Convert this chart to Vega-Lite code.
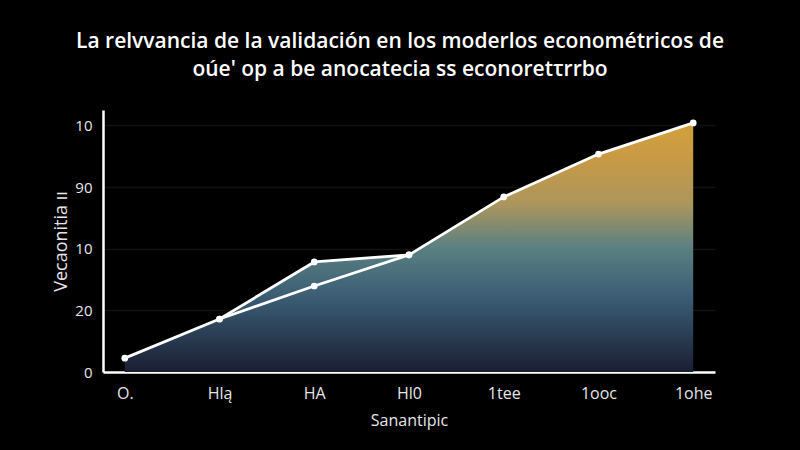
{
  "$schema": "https://vega.github.io/schema/vega-lite/v6.json",
  "width": 612,
  "height": 262,
  "autosize": {"type": "none"},
  "padding": {"left": 103, "top": 110, "right": 85, "bottom": 78},
  "background": "#000000",
  "config": {
    "view": {"stroke": null},
    "font": "Open Sans"
  },
  "title": {
    "text": ["La relvvancia de la validación en los moderlos econométricos de", "oúe' op a be anocatecia ss econoretτrrbo"],
    "color": "#ffffff",
    "fontSize": 21,
    "fontWeight": 600,
    "font": "Open Sans",
    "anchor": "middle",
    "dx": -9,
    "offset": 30,
    "lineHeight": 28
  },
  "data": {
    "values": [
      {"cat": "O.", "value": 4.5, "series": "a"},
      {"cat": "Hlą", "value": 17.2, "series": "a"},
      {"cat": "HA", "value": 35.7, "series": "a"},
      {"cat": "Hl0", "value": 38.0, "series": "a"},
      {"cat": "1tee", "value": 56.8, "series": "a"},
      {"cat": "1ooc", "value": 70.7, "series": "a"},
      {"cat": "1ohe", "value": 80.8, "series": "a"},
      {"cat": "Hlą", "value": 17.2, "series": "b"},
      {"cat": "HA", "value": 27.9, "series": "b"},
      {"cat": "Hl0", "value": 38.0, "series": "b"}
    ]
  },
  "encoding": {
    "x": {
      "field": "cat",
      "type": "ordinal",
      "sort": null,
      "scale": {"type": "point", "padding": 0.23},
      "axis": {
        "title": "Sanantipic",
        "titleColor": "#e6e6e6",
        "titleFontSize": 16,
        "titleFontWeight": "normal",
        "titlePadding": 11,
        "labelColor": "#e6e6e6",
        "labelFontSize": 16,
        "labelAngle": 0,
        "labelPadding": 13,
        "ticks": false,
        "domainColor": "#ffffff",
        "domainWidth": 2.5,
        "grid": false
      }
    },
    "y": {
      "field": "value",
      "type": "quantitative",
      "scale": {"domain": [0, 85], "nice": false},
      "axis": {
        "title": "Vecaonitia  ıı",
        "titleColor": "#e6e6e6",
        "titleFontSize": 18,
        "titleFontWeight": "normal",
        "titlePadding": 4,
        "values": [0, 20, 40, 60, 80],
        "labelExpr": "datum.value == 40 ? '10' : datum.value == 60 ? '90' : datum.value == 80 ? '10' : datum.label",
        "labelColor": "#e6e6e6",
        "labelFontSize": 15,
        "labelPadding": 11,
        "ticks": false,
        "domainColor": "#ffffff",
        "domainWidth": 2.5,
        "grid": true,
        "gridColor": "#121212",
        "gridWidth": 1.5
      }
    }
  },
  "layer": [
    {
      "transform": [{"filter": "datum.series == 'a'"}],
      "mark": {
        "type": "area",
        "color": {
          "gradient": "linear",
          "x1": 0, "y1": 1, "x2": 0, "y2": 0,
          "stops": [
            {"offset": 0, "color": "#1a1e33"},
            {"offset": 0.3, "color": "#3a5d74"},
            {"offset": 0.5, "color": "#5b8082"},
            {"offset": 0.68, "color": "#ad965c"},
            {"offset": 0.86, "color": "#c89a45"},
            {"offset": 1, "color": "#d3a03c"}
          ]
        }
      }
    },
    {
      "mark": {"type": "line", "color": "#ffffff", "strokeWidth": 2.8},
      "encoding": {"detail": {"field": "series"}}
    },
    {
      "mark": {"type": "point", "filled": true, "color": "#ffffff", "size": 45, "opacity": 1}
    }
  ]
}
